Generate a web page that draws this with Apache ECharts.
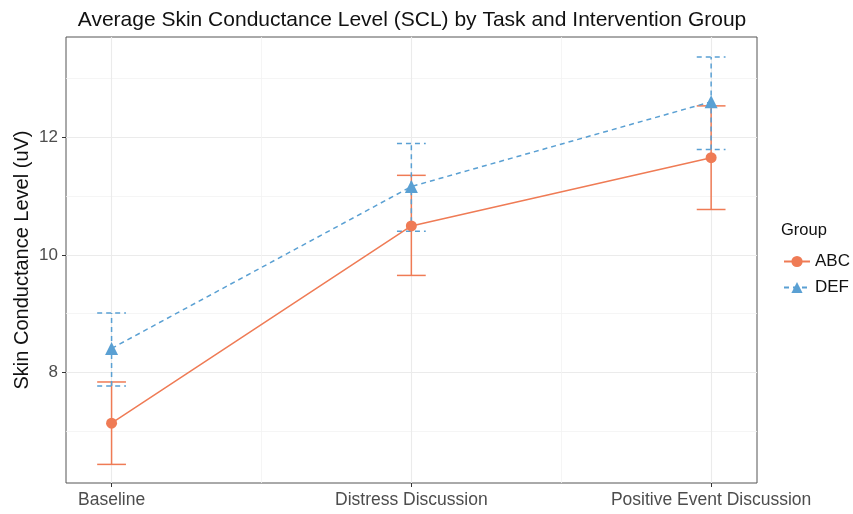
<!DOCTYPE html>
<html>
<head>
<meta charset="utf-8">
<script src="https://cdn.jsdelivr.net/npm/echarts@6/dist/echarts.min.js"></script>
<style>html,body{margin:0;padding:0;background:#fff}#c{width:853px;height:514px}</style>
</head>
<body>
<div id="c"></div>
<script>
const categories = ['Baseline', 'Distress Discussion', 'Positive Event Discussion'];
const groups = ['ABC', 'DEF'];
const abcMean = [7.14, 10.49, 11.65];
const abcLow  = [6.44, 9.65, 10.77];
const abcHigh = [7.84, 11.35, 12.53];
const defMean = [8.41, 11.16, 12.60];
const defLow  = [7.77, 10.40, 11.79];
const defHigh = [9.01, 11.89, 13.36];
const yTicks = [8, 10, 12];
const yMinor = [7, 9, 11, 13];
const xTicks = [1, 2, 3];
const xMinor = [1.5, 2.5];

const FONT = 'Liberation Sans';
const cABC = '#EF7B55';
const cDEF = '#5AA0D3';
const gridColor = '#EBEBEB';

function pts(arr) { return arr.map((v, i) => [i + 1, v]); }
function errs(lo, hi) { return lo.map((v, i) => [i + 1, v, hi[i]]); }

function errRender(color, dash) {
  return function (params, api) {
    const x = api.value(0), lo = api.value(1), hi = api.value(2);
    const pLo = api.coord([x, lo]);
    const pHi = api.coord([x, hi]);
    const hw = api.size([0.048, 0])[0];
    const style = { stroke: color, lineWidth: 1.5, lineDash: dash, fill: null };
    return {
      type: 'group',
      children: [
        { type: 'line', shape: { x1: pLo[0], y1: pLo[1], x2: pHi[0], y2: pHi[1] }, style: style },
        { type: 'line', shape: { x1: pLo[0] - hw, y1: pLo[1], x2: pLo[0] + hw, y2: pLo[1] }, style: style },
        { type: 'line', shape: { x1: pHi[0] - hw, y1: pHi[1], x2: pHi[0] + hw, y2: pHi[1] }, style: style }
      ]
    };
  };
}

const gridLines = [];
yTicks.forEach(v => gridLines.push({ yAxis: v, lineStyle: { color: gridColor, width: 1.1, type: 'solid' } }));
yMinor.forEach(v => gridLines.push({ yAxis: v, lineStyle: { color: '#F2F2F2', width: 0.8, type: 'solid' } }));
xTicks.forEach(v => gridLines.push({ xAxis: v, lineStyle: { color: gridColor, width: 1.1, type: 'solid' } }));
xMinor.forEach(v => gridLines.push({ xAxis: v, lineStyle: { color: '#F2F2F2', width: 0.8, type: 'solid' } }));

const chart = echarts.init(document.getElementById('c'), null, { renderer: 'canvas' });
chart.setOption({
  animation: false,
  backgroundColor: '#fff',
  textStyle: { fontFamily: FONT },
  title: {
    text: 'Average Skin Conductance Level (SCL) by Task and Intervention Group',
    left: 407, top: 5, textAlign: 'center',
    textStyle: { fontFamily: FONT, fontSize: 21, fontWeight: 'normal', color: '#111' }
  },
  grid: { left: 66, right: 96, top: 37, bottom: 31, show: true, borderColor: '#555', borderWidth: 1, backgroundColor: '#fff' },
  xAxis: {
    type: 'value', min: 0.848, max: 3.153,
    axisLine: { show: false },
    splitLine: { show: false },
    axisTick: { show: true, customValues: xTicks, length: 4, lineStyle: { color: '#333' } },
    axisLabel: {
      customValues: xTicks, margin: 8,
      formatter: v => categories[Math.round(v) - 1] || '',
      fontFamily: FONT, fontSize: 17.5, color: '#4D4D4D'
    }
  },
  yAxis: {
    type: 'value', min: 6.124, max: 13.70,
    axisLine: { show: false },
    splitLine: { show: false },
    axisTick: { show: true, customValues: yTicks, length: 4, lineStyle: { color: '#333' } },
    axisLabel: { customValues: yTicks, margin: 8, fontFamily: FONT, fontSize: 17, color: '#4D4D4D' }
  },
  legend: {
    data: groups, orient: 'vertical', left: 778, top: 248, itemGap: 9,
    itemWidth: 26, itemHeight: 14,
    textStyle: { fontFamily: FONT, fontSize: 17, color: '#111' }
  },
  graphic: [
    {
      type: 'text', left: 781, top: 222,
      style: { text: 'Group', fontFamily: FONT, fontSize: 16.5, fill: '#111' }
    },
    {
      type: 'text', x: 22, y: 260, rotation: Math.PI / 2,
      style: { text: 'Skin Conductance Level (uV)', fontFamily: FONT, fontSize: 20, fill: '#111', align: 'center', verticalAlign: 'middle' }
    }
  ],
  series: [
    {
      name: 'grid', type: 'line', data: [], z: 0, silent: true,
      markLine: { silent: true, z: 0, symbol: 'none', label: { show: false }, data: gridLines, animation: false }
    },
    {
      name: 'ABC_err', type: 'custom', z: 3, renderItem: errRender(cABC, null),
      data: errs(abcLow, abcHigh), encode: { x: 0, y: [1, 2] }, silent: true
    },
    {
      name: 'DEF_err', type: 'custom', z: 3, renderItem: errRender(cDEF, [5, 4]),
      data: errs(defLow, defHigh), encode: { x: 0, y: [1, 2] }, silent: true
    },
    {
      name: 'ABC', type: 'line', z: 4, data: pts(abcMean), symbol: 'circle', symbolSize: 11,
      itemStyle: { color: cABC }, lineStyle: { color: cABC, width: 1.5 }
    },
    {
      name: 'DEF', type: 'line', z: 4, data: pts(defMean), symbol: 'triangle', symbolSize: 13,
      itemStyle: { color: cDEF }, lineStyle: { color: cDEF, width: 1.5, type: [5, 4] }
    }
  ]
});
</script>
</body>
</html>
